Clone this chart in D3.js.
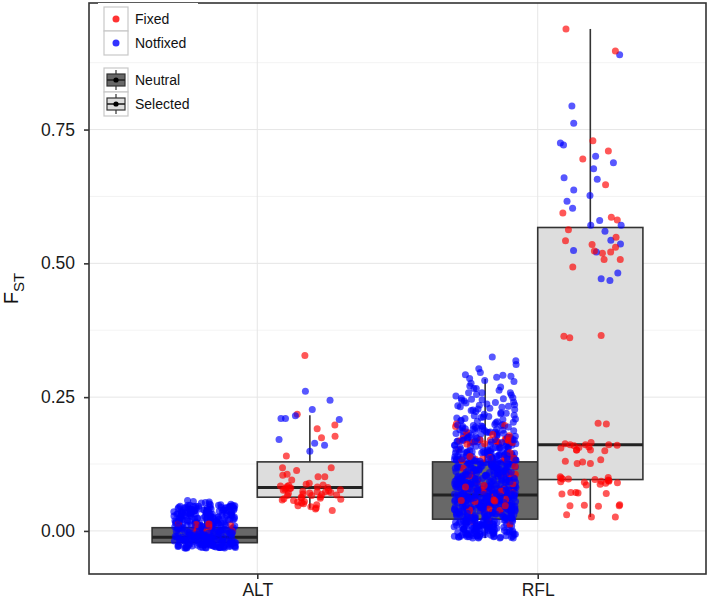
<!DOCTYPE html>
<html>
<head>
<meta charset="utf-8">
<script src="https://cdn.jsdelivr.net/npm/d3@7"></script>
<style>
  body { margin: 0; background: #fff; }
  svg { display: block; font-family: "Liberation Sans", Arial, sans-serif; }
</style>
</head>
<body>
<div id="chart"></div>
<script>
const groups = ['ALT', 'RFL']
const types = ['Neutral', 'Selected']
const yTicks = [0, 0.25, 0.5, 0.75]
const minorTicks = [0.125, 0.375, 0.625, 0.875]

// box stats: [lower whisker, q1, median, q3, upper whisker]
const altNeutralBox = [-0.032, -0.022, -0.012, 0.006, 0.045]
const altSelectedBox = [0.042, 0.063, 0.081, 0.129, 0.216]
const rflNeutralBox = [-0.013, 0.022, 0.067, 0.129, 0.284]
const rflSelectedBox = [0.026, 0.096, 0.161, 0.567, 0.938]

const altNeutralNotfixed = [
  -0.031, 0.012, -0.006, 0.041, 0.003, -0.022, 0.027, -0.014, 0.035, 0.019,
  -0.027, 0.008, 0.046, -0.018, 0.022, -0.002, 0.033, -0.029, 0.015, 0.001,
  0.038, -0.011, 0.025, -0.024, 0.044, 0.006, -0.016, 0.030, -0.032, 0.017,
  -0.004, 0.043, -0.020, 0.010, 0.036, -0.028, 0.021, -0.009, 0.048, 0.002,
  0.029, -0.026, 0.014, -0.013, 0.039, -0.001, 0.024, -0.030, 0.009, 0.045,
  -0.019, 0.032, -0.007, 0.018, -0.025, 0.040, 0.005, -0.015, 0.026, -0.031,
  0.011, 0.047, -0.023, 0.034, -0.003, 0.020, -0.028, 0.042, -0.010, 0.016,
  0.052, -0.017, 0.028, -0.005, 0.037, -0.027, 0.013, -0.021, 0.031, 0.004,
  -0.012, 0.023, -0.030, 0.044, 0.007, -0.024, 0.035, -0.008, 0.019, -0.016,
  0.040, -0.002, 0.026, -0.029, 0.011, 0.046, -0.020, 0.003, 0.033, -0.026,
  0.017, -0.013, 0.038, -0.032, 0.022, -0.006, 0.049, 0.009, -0.018, 0.029,
  -0.024, 0.036, 0.001, -0.011, 0.043, -0.028, 0.015, 0.024, -0.004, 0.055,
  0.006, -0.022, 0.031, -0.015, 0.041, -0.031, 0.020, -0.009, 0.034, 0.012,
  -0.027, 0.045, -0.001, 0.027, -0.019, 0.008, 0.039, -0.025, 0.016, -0.007,
  0.032, -0.014, 0.047, 0.002, -0.030, 0.023, -0.010, 0.037, -0.021, 0.013,
  0.050, -0.026, 0.018, -0.003, 0.042, -0.017, 0.028, -0.032, 0.005, 0.035,
  -0.008, 0.021, -0.023, 0.044, 0.010, -0.029, 0.030, -0.012, 0.039, 0.000,
  0.025, -0.018, 0.014, -0.028, 0.046, -0.005, 0.033, -0.020, 0.007, 0.057,
  -0.015, 0.040, -0.031, 0.019, -0.002, 0.036, -0.024, 0.011, 0.048, -0.010,
  0.029, -0.027, 0.004, 0.043, -0.013, 0.022, -0.030, 0.034, -0.006, 0.016,
  0.053, -0.021, 0.026, -0.016, 0.038, -0.025, 0.012, 0.045, -0.009, 0.003,
  -0.029, 0.031, -0.003, 0.020, -0.022, 0.041, 0.008, -0.014, 0.027, -0.032,
  0.015, 0.047, -0.019, 0.035, -0.007, 0.024, -0.026, 0.039, 0.001, -0.012,
  0.049, -0.023, 0.010, -0.030, 0.032, -0.004, 0.018, -0.017, 0.044, 0.006,
  -0.011, 0.037, -0.028, 0.023, 0.051, -0.020, 0.013, -0.001, 0.030, -0.025,
  0.042, -0.008, 0.021, -0.031, 0.009, 0.036, -0.015, 0.026, 0.054, -0.018,
  -0.025, 0.019, -0.010, 0.038, -0.030, 0.004, 0.029, -0.016, 0.046, -0.002,
  0.013, -0.027, 0.035, -0.007, 0.024, -0.021, 0.042, 0.000, -0.013, 0.031,
  -0.031, 0.009, 0.044, -0.019, 0.017, -0.004, 0.027, -0.028, 0.037, 0.006,
  0.021, -0.012, 0.048, -0.024, 0.003, 0.033, -0.009, 0.015, -0.032, 0.040,
  -0.006, 0.026, -0.018, 0.010, 0.043, -0.026, 0.018, -0.001, 0.035, -0.015,
  0.007, -0.029, 0.030, -0.011, 0.045, -0.022, 0.014, 0.039, -0.005, 0.023
]
const altNeutralFixed = [0.013, 0.012, 0.001, 0.000, 0.001, 0.013, 0.012, 0.013, 0.008, 0.001, 0.012]

const altSelectedFixed = [
  0.328, 0.218, 0.198, 0.191, 0.177, 0.174, 0.140, 0.118, 0.118, 0.113,
  0.101, 0.101, 0.106, 0.104, 0.095, 0.089, 0.087, 0.085, 0.084, 0.083,
  0.082, 0.081, 0.080, 0.079, 0.078, 0.077, 0.076, 0.075, 0.074, 0.073,
  0.072, 0.071, 0.070, 0.069, 0.068, 0.067, 0.066, 0.064, 0.063, 0.062,
  0.061, 0.060, 0.058, 0.057, 0.055, 0.054, 0.052, 0.051, 0.049, 0.047,
  0.045, 0.043, 0.041, 0.038, 0.086, 0.080, 0.073, 0.066, 0.059
]
const altSelectedNotfixed = [0.244, 0.227, 0.210, 0.210, 0.215, 0.208, 0.261, 0.171, 0.149, 0.164, 0.160]

const rflNeutralNotfixed = [
  0.004, 0.087, 0.132, -0.008, 0.056, 0.118, 0.023, 0.071, 0.145, 0.039,
  0.101, -0.012, 0.064, 0.027, 0.139, 0.082, 0.011, 0.095, 0.048, 0.124,
  0.033, 0.110, -0.004, 0.076, 0.142, 0.059, 0.017, 0.128, 0.091, 0.002,
  0.067, 0.149, 0.044, 0.008, 0.104, 0.029, 0.085, -0.010, 0.136, 0.052,
  0.121, 0.015, 0.093, 0.061, -0.002, 0.114, 0.037, 0.079, 0.147, 0.024,
  0.006, 0.073, 0.130, 0.050, 0.098, -0.013, 0.069, 0.117, 0.031, 0.088,
  0.141, 0.041, 0.013, 0.107, 0.062, 0.126, -0.006, 0.083, 0.020, 0.097,
  0.055, 0.134, 0.003, 0.075, 0.046, 0.112, 0.028, 0.144, 0.066, -0.009,
  0.090, 0.018, 0.123, 0.058, 0.000, 0.102, 0.035, 0.138, 0.080, 0.012,
  0.127, 0.063, -0.011, 0.094, 0.042, 0.146, 0.021, 0.070, 0.109, 0.049,
  -0.003, 0.084, 0.036, 0.131, 0.009, 0.060, 0.116, 0.026, 0.099, 0.143,
  0.072, 0.014, 0.106, -0.007, 0.053, 0.137, 0.040, 0.089, 0.005, 0.119,
  0.030, 0.148, 0.068, 0.019, 0.096, -0.012, 0.078, 0.125, 0.045, 0.001,
  0.113, 0.057, 0.010, 0.086, 0.133, 0.032, -0.005, 0.103, 0.065, 0.140,
  0.047, -0.010, 0.120, 0.074, 0.016, 0.092, 0.038, 0.129, 0.007, 0.081,
  0.100, 0.025, 0.058, 0.145, -0.001, 0.067, 0.111, 0.043, 0.135, 0.012,
  0.061, 0.122, 0.003, 0.088, 0.034, 0.150, 0.076, -0.008, 0.054, 0.108,
  0.019, 0.095, 0.141, 0.029, 0.071, 0.006, 0.118, 0.050, 0.083, -0.013,
  0.130, 0.044, 0.078, -0.004, 0.115, 0.022, 0.063, 0.138, 0.008, 0.097,
  0.037, 0.104, 0.015, 0.069, 0.147, 0.052, -0.009, 0.090, 0.124, 0.027,
  0.082, -0.002, 0.136, 0.046, 0.011, 0.099, 0.059, 0.127, 0.033, 0.072,
  0.142, 0.064, 0.024, 0.112, -0.011, 0.080, 0.040, 0.105, 0.002, 0.055,
  0.016, 0.091, 0.131, 0.035, 0.075, 0.009, 0.121, 0.062, 0.146, -0.006,
  0.068, 0.028, 0.087, 0.139, 0.048, -0.013, 0.101, 0.020, 0.077, 0.114,
  0.005, 0.126, 0.057, 0.094, 0.013, 0.143, 0.039, 0.070, -0.003, 0.107,
  0.093, 0.043, -0.008, 0.133, 0.066, 0.025, 0.116, 0.001, 0.085, 0.051,
  0.120, 0.010, 0.079, 0.031, 0.149, 0.060, -0.010, 0.098, 0.041, 0.135,
  0.026, 0.073, 0.110, -0.005, 0.053, 0.128, 0.018, 0.089, 0.140, 0.063,
  0.047, 0.137, 0.004, 0.081, 0.119, 0.036, 0.096, -0.012, 0.058, 0.014,
  0.106, -0.001, 0.067, 0.144, 0.022, 0.086, 0.050, 0.123, 0.007, 0.076,
  0.030, 0.092, 0.134, 0.012, 0.061, -0.007, 0.113, 0.044, 0.148, 0.084,
  0.071, 0.017, 0.100, 0.056, 0.129, 0.003, 0.079, 0.034, -0.011, 0.117,
  0.139, 0.052, -0.004, 0.088, 0.024, 0.108, 0.065, 0.146, 0.038, 0.009,
  0.062, 0.125, 0.042, -0.009, 0.097, 0.015, 0.132, 0.074, 0.000, 0.103,
  0.019, 0.083, 0.141, 0.057, 0.111, 0.032, -0.013, 0.069, 0.122, 0.046,
  0.094, 0.006, 0.060, 0.127, -0.002, 0.078, 0.147, 0.027, 0.090, 0.054,
  0.115, 0.039, 0.011, 0.102, 0.070, 0.136, 0.045, -0.006, 0.081, 0.021,
  0.049, 0.143, 0.085, 0.016, 0.119, 0.064, 0.002, 0.109, 0.035, 0.131,
  0.008, 0.076, 0.030, 0.128, 0.051, -0.010, 0.093, 0.140, 0.063, 0.018,
  0.087, 0.124, -0.003, 0.044, 0.104, 0.023, 0.072, 0.011, 0.134, 0.058,
  0.012, 0.143, 0.066, 0.098, -0.006, 0.121, 0.037, 0.079, 0.156, 0.024,
  0.110, 0.051, 0.003, 0.087, 0.134, 0.070, 0.018, 0.168, 0.045, 0.101,
  0.060, 0.127, -0.010, 0.092, 0.031, 0.148, 0.075, 0.009, 0.116, 0.054,
  0.139, 0.022, 0.083, 0.175, 0.040, 0.106, -0.002, 0.064, 0.131, 0.015,
  0.097, 0.158, 0.048, 0.007, 0.119, 0.072, 0.029, 0.145, 0.089, -0.012,
  0.057, 0.182, 0.034, 0.112, 0.068, 0.001, 0.137, 0.080, 0.020, 0.163,
  0.043, 0.124, 0.094, -0.007, 0.152, 0.061, 0.011, 0.108, 0.036, 0.188,
  0.077, 0.140, 0.026, 0.085, 0.118, 0.050, -0.004, 0.130, 0.069, 0.171,
  0.016, 0.102, 0.039, 0.150, 0.091, 0.005, 0.063, 0.126, 0.032, 0.194,
  0.081, 0.113, 0.047, 0.160, -0.011, 0.095, 0.058, 0.135, 0.021, 0.073,
  0.147, 0.010, 0.104, 0.044, 0.179, 0.067, 0.123, 0.028, 0.086, 0.154,
  0.002, 0.115, 0.055, 0.132, 0.078, 0.013, 0.166, 0.099, 0.041, 0.185,
  0.152, 0.178, 0.163, 0.195, 0.157, 0.186, 0.171, 0.199, 0.160, 0.183,
  0.168, 0.191, 0.154, 0.175, 0.197, 0.165, 0.181, 0.158, 0.189, 0.172,
  0.193, 0.161, 0.179, 0.155, 0.185, 0.169, 0.198, 0.164, 0.176, 0.151,
  0.188, 0.166, 0.194, 0.173, 0.159, 0.182, 0.170, 0.196, 0.156, 0.187,
  0.162, 0.180, 0.192, 0.167, 0.153, 0.184, 0.174, 0.190, 0.158, 0.177,
  0.199, 0.163, 0.185, 0.171, 0.195, 0.160, 0.179, 0.166, 0.188, 0.154,
  0.174, 0.192, 0.168, 0.183, 0.157, 0.197, 0.176, 0.162, 0.190, 0.170,
  0.203, 0.228, 0.214, 0.246, 0.207, 0.236, 0.221, 0.249, 0.210, 0.233,
  0.218, 0.241, 0.204, 0.226, 0.244, 0.212, 0.231, 0.209, 0.239, 0.223,
  0.247, 0.216, 0.229, 0.205, 0.237, 0.219, 0.243, 0.211, 0.234, 0.225,
  0.202, 0.240, 0.215, 0.232, 0.248, 0.208, 0.227, 0.220, 0.245, 0.213,
  0.235, 0.206,
  0.325, 0.318, 0.311, 0.296, 0.292, 0.285, 0.281, 0.289, 0.291, 0.287,
  0.271, 0.266, 0.258, 0.266, 0.258, 0.263, 0.255, 0.258, 0.252, 0.276,
  0.303, 0.269, 0.254, 0.279
]
const rflNeutralFixed = [
  0.197, 0.200, 0.195,
  0.171, 0.168, 0.165, 0.173, 0.166, 0.170, 0.164, 0.172, 0.167, 0.169, 0.163,
  0.171, 0.166, 0.174, 0.168, 0.165, 0.170, 0.178, 0.162, 0.185, 0.180,
  0.152, 0.146,
  0.136, 0.133, 0.138, 0.134, 0.131, 0.137, 0.135, 0.132, 0.139, 0.136,
  0.121, 0.117,
  0.107, 0.104, 0.108, 0.105, 0.103, 0.106, 0.109, 0.104,
  0.092, 0.088, 0.085, 0.082,
  0.077, 0.074, 0.079, 0.072, 0.076, 0.073, 0.078, 0.075,
  0.064, 0.058, 0.056, 0.059, 0.055, 0.057, 0.047,
  0.040, 0.038, 0.041, 0.039, 0.028, 0.017, 0.018, 0.012
]

const rflSelectedFixed = [
  0.938, 0.897, 0.729, 0.710, 0.695, 0.647, 0.594, 0.586, 0.581, 0.563,
  0.549, 0.542, 0.535, 0.530, 0.523, 0.519, 0.521, 0.507, 0.507, 0.493,
  0.365, 0.361, 0.364, 0.201, 0.200,
  0.161, 0.161, 0.156, 0.151, 0.155, 0.159, 0.165, 0.161, 0.151, 0.150, 0.151, 0.160, 0.163, 0.157,
  0.129, 0.126, 0.133, 0.130, 0.126,
  0.097, 0.099, 0.101, 0.096, 0.091, 0.093, 0.095, 0.100, 0.097, 0.094, 0.090, 0.092, 0.089, 0.087, 0.093, 0.086,
  0.071, 0.072, 0.070, 0.069, 0.072,
  0.047, 0.048, 0.047, 0.049, 0.046,
  0.026, 0.026, 0.030
]
const rflSelectedNotfixed = [
  0.890, 0.794, 0.762, 0.725, 0.721, 0.700, 0.688, 0.677, 0.660, 0.657,
  0.637, 0.627, 0.616, 0.603, 0.580, 0.571, 0.571, 0.560, 0.543, 0.536,
  0.524, 0.521, 0.482, 0.471, 0.468
]

const w = 709
const h = 602
const padL = 89, padR = 706, padT = 3, padB = 574
const fillColor = { Neutral: '#686868', Selected: '#dddddd' }
const pointColor = { Fixed: '#ff0000', Notfixed: '#0000ff' }

const boxes = [
  { group: 'ALT', type: 'Neutral', stats: altNeutralBox },
  { group: 'ALT', type: 'Selected', stats: altSelectedBox },
  { group: 'RFL', type: 'Neutral', stats: rflNeutralBox },
  { group: 'RFL', type: 'Selected', stats: rflSelectedBox },
]
const pointSets = [
  { group: 'ALT', type: 'Neutral', status: 'Notfixed', values: altNeutralNotfixed },
  { group: 'ALT', type: 'Neutral', status: 'Fixed', values: altNeutralFixed },
  { group: 'ALT', type: 'Selected', status: 'Fixed', values: altSelectedFixed },
  { group: 'ALT', type: 'Selected', status: 'Notfixed', values: altSelectedNotfixed },
  { group: 'RFL', type: 'Neutral', status: 'Notfixed', values: rflNeutralNotfixed },
  { group: 'RFL', type: 'Neutral', status: 'Fixed', values: rflNeutralFixed },
  { group: 'RFL', type: 'Selected', status: 'Fixed', values: rflSelectedFixed },
  { group: 'RFL', type: 'Selected', status: 'Notfixed', values: rflSelectedNotfixed },
]

const svg = d3.select('#chart').append('svg').attr('width', w).attr('height', h)

const x = d3.scalePoint().domain(groups).range([padL, padR]).padding(0.6)
const y = d3.scaleLinear().domain([-0.0805, 0.9865]).range([padB, padT])
const dodge = d3.scaleBand().domain(types).range([-0.375, 0.375])
const step = x.step()
const boxW = dodge.bandwidth() * step
const center = (g, t) => x(g) + (dodge(t) + dodge.bandwidth() / 2) * step

// deterministic jitter (horizontal only)
function jitter(i, seed) {
  const s = Math.sin((i + 1) * 12.9898 + seed * 78.233) * 43758.5453
  return s - Math.floor(s)
}

// grid
const grid = svg.append('g')
grid.selectAll('.minor').data(minorTicks).enter().append('line')
  .attr('x1', padL).attr('x2', padR)
  .attr('y1', d => y(d)).attr('y2', d => y(d))
  .attr('stroke', '#f0f0f0').attr('stroke-width', 0.8)
grid.selectAll('.major').data(yTicks).enter().append('line')
  .attr('x1', padL).attr('x2', padR)
  .attr('y1', d => y(d)).attr('y2', d => y(d))
  .attr('stroke', '#e6e6e6').attr('stroke-width', 1)
grid.selectAll('.vmajor').data(groups).enter().append('line')
  .attr('x1', d => x(d)).attr('x2', d => x(d))
  .attr('y1', padT).attr('y2', padB)
  .attr('stroke', '#e6e6e6').attr('stroke-width', 1)

// boxplots
const bx = svg.append('g').selectAll('g').data(boxes).enter().append('g')
bx.append('line')
  .attr('x1', d => center(d.group, d.type)).attr('x2', d => center(d.group, d.type))
  .attr('y1', d => y(d.stats[4])).attr('y2', d => y(d.stats[3]))
  .attr('stroke', '#333').attr('stroke-width', 1.6)
bx.append('line')
  .attr('x1', d => center(d.group, d.type)).attr('x2', d => center(d.group, d.type))
  .attr('y1', d => y(d.stats[1])).attr('y2', d => y(d.stats[0]))
  .attr('stroke', '#333').attr('stroke-width', 1.6)
bx.append('rect')
  .attr('x', d => center(d.group, d.type) - boxW / 2)
  .attr('width', boxW)
  .attr('y', d => y(d.stats[3]))
  .attr('height', d => y(d.stats[1]) - y(d.stats[3]))
  .attr('fill', d => fillColor[d.type])
  .attr('stroke', '#333').attr('stroke-width', 1.6)
bx.append('line')
  .attr('x1', d => center(d.group, d.type) - boxW / 2)
  .attr('x2', d => center(d.group, d.type) + boxW / 2)
  .attr('y1', d => y(d.stats[2])).attr('y2', d => y(d.stats[2]))
  .attr('stroke', '#222').attr('stroke-width', 3)

// jittered points, drawn in a mixed order so the colours overlap like the original
const points = []
pointSets.forEach((set, k) => {
  set.values.forEach((v, i) => {
    points.push({
      x: center(set.group, set.type) + (jitter(i, k + 1) * 2 - 1) * 31,
      v: v,
      status: set.status,
      order: jitter(i, k + 20)
    })
  })
})
points.sort((a, b) => a.order - b.order)
svg.append('g').selectAll('circle').data(points).enter().append('circle')
  .attr('cx', d => d.x)
  .attr('cy', d => y(d.v))
  .attr('r', 3.5)
  .attr('fill', d => pointColor[d.status])
  .attr('fill-opacity', 0.66)

// panel border
svg.append('rect')
  .attr('x', padL).attr('y', padT)
  .attr('width', padR - padL).attr('height', padB - padT)
  .attr('fill', 'none').attr('stroke', '#333').attr('stroke-width', 1.6)

// axes
const yAxis = svg.append('g').attr('transform', `translate(${padL},0)`)
  .call(d3.axisLeft(y).tickValues(yTicks).tickFormat(d3.format('.2f')).tickSize(5).tickPadding(9))
const xAxis = svg.append('g').attr('transform', `translate(0,${padB})`)
  .call(d3.axisBottom(x).tickSize(5).tickPadding(5))
;[yAxis, xAxis].forEach(a => {
  a.select('.domain').remove()
  a.selectAll('.tick line').attr('stroke', '#333').attr('stroke-width', 1.6)
  a.selectAll('.tick text').attr('fill', '#1a1a1a').attr('font-size', '17.5px')
    .attr('font-family', '"Liberation Sans", Arial, sans-serif')
})

// y title
const yTitle = svg.append('text')
  .attr('transform', `translate(18,${(padT + padB) / 2}) rotate(-90)`)
  .attr('text-anchor', 'middle')
  .attr('fill', '#111')
yTitle.append('tspan').attr('font-size', '20px').text('F')
yTitle.append('tspan').attr('font-size', '15px').attr('dy', 6).text('ST')

// legends
const keySize = 24
const keyX = 104
const legendPts = svg.append('g')
legendPts.append('rect').attr('x', 98).attr('y', 3).attr('width', 100).attr('height', 56).attr('fill', '#fff')
const ptRows = ['Fixed', 'Notfixed']
ptRows.forEach((s, i) => {
  const ky = 7 + i * keySize
  legendPts.append('rect').attr('x', keyX).attr('y', ky).attr('width', keySize).attr('height', keySize)
    .attr('fill', '#fff').attr('stroke', '#c8c8c8').attr('stroke-width', 1.2)
  legendPts.append('circle').attr('cx', keyX + keySize / 2).attr('cy', ky + keySize / 2).attr('r', 3.5)
    .attr('fill', pointColor[s]).attr('fill-opacity', 0.8)
  legendPts.append('text').attr('x', 135).attr('y', ky + keySize / 2).attr('dy', '0.36em')
    .attr('font-size', '14px').attr('fill', '#111').text(s)
})

const legendBox = svg.append('g')
legendBox.append('rect').attr('x', 98).attr('y', 64).attr('width', 100).attr('height', 57).attr('fill', '#fff')
types.forEach((t, i) => {
  const ky = 68 + i * keySize
  const cx = keyX + keySize / 2
  legendBox.append('rect').attr('x', keyX).attr('y', ky).attr('width', keySize).attr('height', keySize)
    .attr('fill', '#fff').attr('stroke', '#c8c8c8').attr('stroke-width', 1.2)
  legendBox.append('line').attr('x1', cx).attr('x2', cx).attr('y1', ky + 2).attr('y2', ky + keySize - 2)
    .attr('stroke', '#333').attr('stroke-width', 1.2)
  legendBox.append('rect').attr('x', keyX + 3).attr('y', ky + 6).attr('width', keySize - 6).attr('height', keySize - 12)
    .attr('fill', fillColor[t]).attr('stroke', '#333').attr('stroke-width', 1.2)
  legendBox.append('line').attr('x1', keyX + 3).attr('x2', keyX + keySize - 3)
    .attr('y1', ky + keySize / 2).attr('y2', ky + keySize / 2)
    .attr('stroke', '#222').attr('stroke-width', 1.6)
  legendBox.append('circle').attr('cx', cx).attr('cy', ky + keySize / 2).attr('r', 2.6).attr('fill', '#000')
  legendBox.append('text').attr('x', 135).attr('y', ky + keySize / 2).attr('dy', '0.36em')
    .attr('font-size', '14px').attr('fill', '#111').text(t)
})
</script>
</body>
</html>
